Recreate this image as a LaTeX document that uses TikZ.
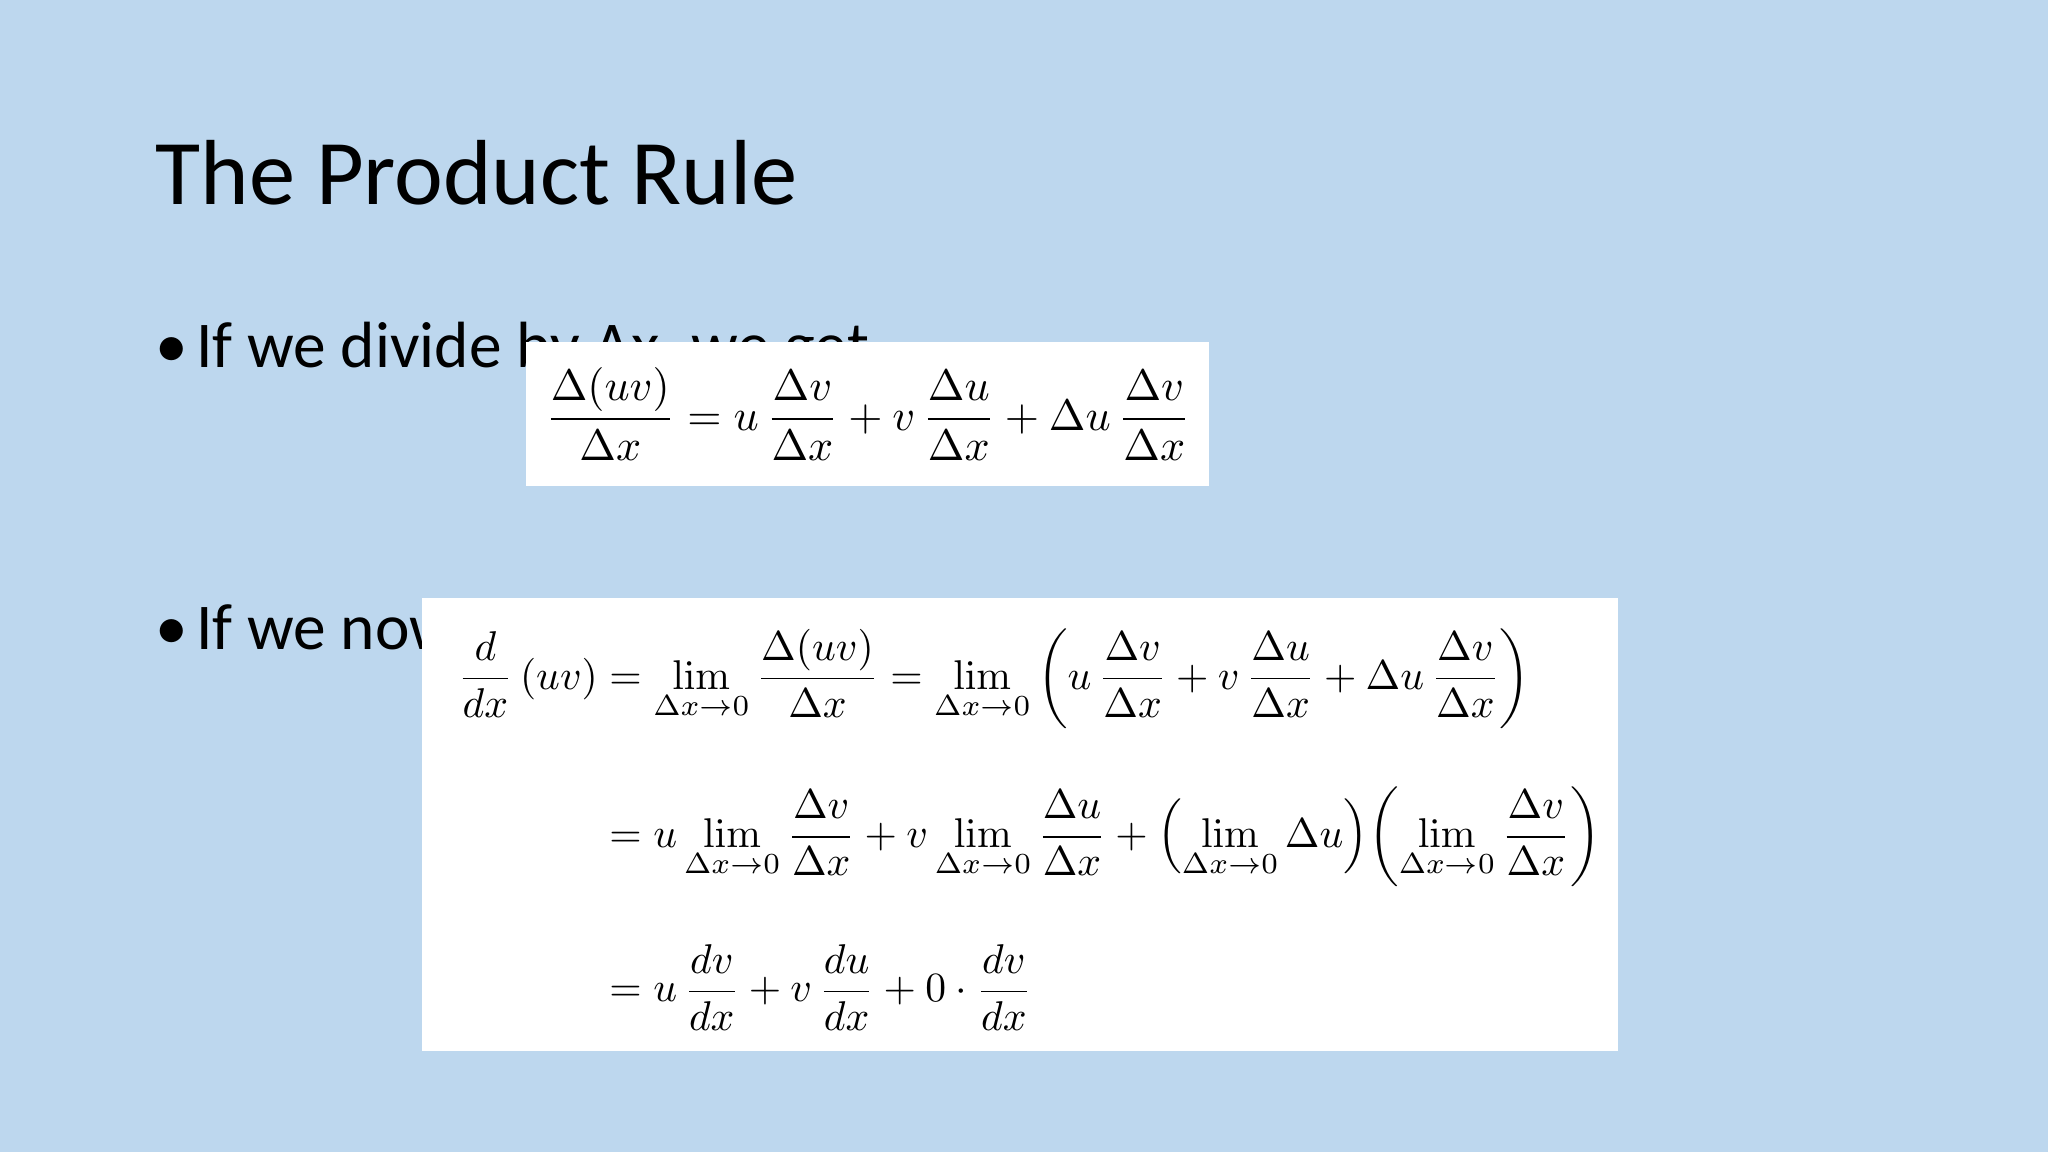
\documentclass[tikz,border=0pt]{standalone}
\usepackage{amsmath}
\usepackage{graphicx}
\usepackage[no-math]{fontspec}
\setmainfont{Carlito}
\tikzset{
  bullet/.style={anchor=base west, font=\fontsize{18.6}{22}\selectfont, inner sep=0},
  eqbox/.style={fill=white, draw=none}
}
\begin{document}
\begin{tikzpicture}
\fill[fill={rgb,255:red,189;green,215;blue,238}] (0,0) rectangle (20.48,11.52);
\useasboundingbox (0,0) rectangle (20.48,11.52);
\node[anchor=base west, inner sep=0, font=\fontsize{26.3}{31}\selectfont] (title) at (1.55,9.47) {The Product Rule};
\node[bullet] (b1) at (1.55,7.84) {•\hspace{0.08cm}If we divide by Δx, we get};
\node[bullet] (b2) at (1.55,5.02) {•\hspace{0.08cm}If we now let Δx → 0, we get};
\fill[eqbox] (5.26,6.66) rectangle (12.09,8.10);
\node (eq1) at (8.68,7.38) {\resizebox{6.45cm}{!}{$\displaystyle \frac{\Delta(uv)}{\Delta x} = u\,\frac{\Delta v}{\Delta x} + v\,\frac{\Delta u}{\Delta x} + \Delta u\,\frac{\Delta v}{\Delta x}$}};
\fill[eqbox] (4.22,1.01) rectangle (16.18,5.54);
\node[anchor=north west, inner sep=0] (eq2) at (4.57,5.24) {\resizebox{11.43cm}{!}{$\displaystyle
\begin{aligned}
\frac{d}{dx}\,(uv) &= \lim_{\Delta x\to 0}\frac{\Delta(uv)}{\Delta x} = \lim_{\Delta x\to 0}\left(u\,\frac{\Delta v}{\Delta x} + v\,\frac{\Delta u}{\Delta x} + \Delta u\,\frac{\Delta v}{\Delta x}\right)\\[10pt]
&= u\lim_{\Delta x\to 0}\frac{\Delta v}{\Delta x} + v\lim_{\Delta x\to 0}\frac{\Delta u}{\Delta x} + \left(\lim_{\Delta x\to 0}\Delta u\right)\!\left(\lim_{\Delta x\to 0}\frac{\Delta v}{\Delta x}\right)\\[10pt]
&= u\,\frac{dv}{dx} + v\,\frac{du}{dx} + 0\cdot\frac{dv}{dx}
\end{aligned}$}};
\end{tikzpicture}
\end{document}
